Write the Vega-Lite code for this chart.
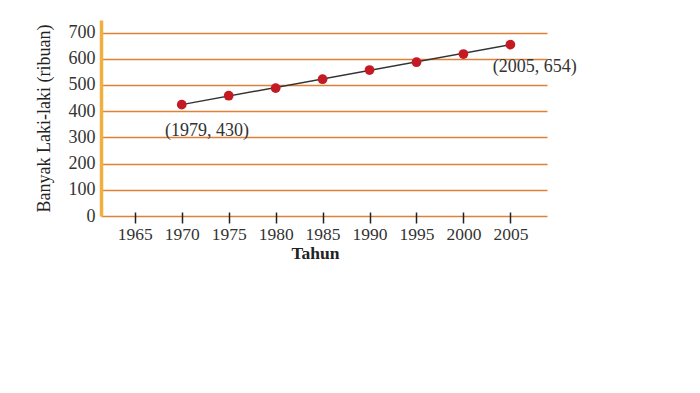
{
  "$schema": "https://vega.github.io/schema/vega-lite/v6.json",
  "autosize": "none",
  "width": 446,
  "height": 196,
  "padding": {"left": 101, "top": 20, "right": 153, "bottom": 177},
  "background": "white",
  "config": {
    "view": {"stroke": null},
    "font": "Liberation Serif"
  },
  "datasets": {
    "pts": [
      {"tahun": 1970, "nilai": 425},
      {"tahun": 1975, "nilai": 459},
      {"tahun": 1980, "nilai": 488},
      {"tahun": 1985, "nilai": 522},
      {"tahun": 1990, "nilai": 557},
      {"tahun": 1995, "nilai": 587},
      {"tahun": 2000, "nilai": 618},
      {"tahun": 2005, "nilai": 654}
    ],
    "trend": [
      {"tahun": 1970, "nilai": 425},
      {"tahun": 2005, "nilai": 654}
    ],
    "labels": [
      {"tahun": 1972.7, "nilai": 324, "teks": "(1979, 430)"},
      {"tahun": 2007.6, "nilai": 569, "teks": "(2005, 654)"}
    ]
  },
  "encoding": {
    "x": {
      "field": "tahun", "type": "quantitative",
      "scale": {"domain": [1961.4, 2008.9], "nice": false, "zero": false},
      "axis": {
        "values": [1965, 1970, 1975, 1980, 1985, 1990, 1995, 2000, 2005],
        "format": "d",
        "labelOverlap": false,
        "title": "Tahun",
        "titleFont": "Liberation Serif",
        "titleFontSize": 17.5,
        "titleFontWeight": "bold",
        "titleColor": "#222222",
        "titlePadding": 2,
        "titleX": 214,
        "labelFont": "Liberation Serif",
        "labelFontSize": 17.5,
        "labelColor": "#333333",
        "labelPadding": 2,
        "domain": false,
        "grid": false,
        "ticks": true,
        "tickColor": "#222222",
        "tickSize": 11,
        "tickWidth": 1.5,
        "offset": -4
      }
    },
    "y": {
      "field": "nilai", "type": "quantitative",
      "scale": {"domain": [0, 748], "nice": false},
      "axis": {
        "values": [0, 100, 200, 300, 400, 500, 600, 700],
        "labelOverlap": false,
        "title": "Banyak Laki-laki (ribuan)",
        "titleFont": "Liberation Serif",
        "titleFontSize": 18,
        "titleFontWeight": "normal",
        "titleColor": "#222222",
        "titlePadding": 15,
        "labelFont": "Liberation Serif",
        "labelFontSize": 18,
        "labelColor": "#333333",
        "labelPadding": 6,
        "ticks": false,
        "domain": true,
        "domainColor": "#F0B040",
        "domainWidth": 3.5,
        "grid": true,
        "gridColor": "#E0813A",
        "gridWidth": 1.5,
        "gridOpacity": 1
      }
    }
  },
  "layer": [
    {
      "data": {"name": "trend"},
      "mark": {"type": "line", "color": "#333333", "strokeWidth": 1.5}
    },
    {
      "data": {"name": "pts"},
      "mark": {"type": "point", "filled": true, "color": "#C41A24", "size": 95, "opacity": 1}
    },
    {
      "data": {"name": "labels"},
      "mark": {"type": "text", "font": "Liberation Serif", "fontSize": 18, "color": "#333333"},
      "encoding": {
        "text": {"field": "teks"}
      }
    }
  ]
}
